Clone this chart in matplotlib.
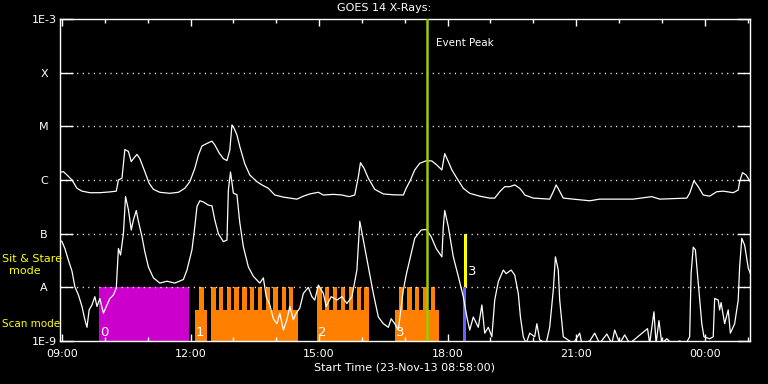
import matplotlib
matplotlib.use("Agg")
import matplotlib.pyplot as plt

plt.rcParams['lines.scale_dashes'] = False
plt.rcParams['font.family'] = ['DejaVu Sans']

# GOES 14 long channel (1-8 A), time in minutes after 09:00
long_t = [-3, 2, 7, 14, 21, 28, 39, 53, 67, 76, 79, 84, 88, 93, 97, 100, 105, 109,
          116, 122, 128, 137, 151, 163, 172, 179, 186, 191, 196, 203, 210, 214, 220,
          226, 231, 235, 238, 241, 245, 249, 256, 263, 273, 280, 289, 298, 310, 324,
          329, 338, 347, 359, 366, 380, 392, 402, 410, 415, 418, 423, 429, 438, 450,
          464, 478, 482, 488, 494, 501, 511, 518, 525, 532, 536, 540, 546, 553, 562,
          571, 585, 599, 606, 613, 620, 627, 634, 641, 646, 648, 660, 683, 688, 692,
          696, 702, 716, 739, 753, 781, 800, 826, 837, 875, 879, 885, 891, 898, 907,
          917, 926, 940, 947, 949, 953, 958, 964]
long_flux = [1.39e-6, 1.43e-6, 1.24e-6, 1.0e-6, 7.0e-7, 6.2e-7, 5.8e-7, 5.8e-7, 6.0e-7,
             6.2e-7, 1.0e-6, 1.08e-6, 3.7e-6, 3.4e-6, 2.2e-6, 2.5e-6, 3.0e-6, 2.5e-6,
             1.43e-6, 8.7e-7, 6.7e-7, 5.9e-7, 5.65e-7, 5.9e-7, 7.0e-7, 9.3e-7, 1.65e-6,
             2.9e-6, 4.3e-6, 4.8e-6, 5.3e-6, 4.5e-6, 3.2e-6, 2.5e-6, 2.3e-6, 3.6e-6,
             1.06e-5, 9.2e-6, 6.9e-6, 4.2e-6, 2.0e-6, 1.24e-6, 9.3e-7, 8.1e-7, 7.0e-7,
             5.25e-7, 4.8e-7, 4.5e-7, 4.4e-7, 5.0e-7, 5.5e-7, 5.9e-7, 5.25e-7, 5.4e-7,
             5.25e-7, 4.9e-7, 5.25e-7, 1.15e-6, 2.1e-6, 1.65e-6, 1.08e-6, 6.7e-7, 5.5e-7,
             5.3e-7, 5.25e-7, 7.0e-7, 1.0e-6, 1.54e-6, 2.05e-6, 2.3e-6, 2.26e-6, 1.9e-6,
             1.54e-6, 3.1e-6, 2.36e-6, 1.54e-6, 1.08e-6, 7.0e-7, 5.65e-7, 5.0e-7, 4.6e-7,
             4.6e-7, 6.05e-7, 7.5e-7, 7.5e-7, 8.1e-7, 7.0e-7, 5.8e-7, 5.25e-7, 4.6e-7,
             4.4e-7, 6.05e-7, 8.1e-7, 6.5e-7, 4.6e-7, 4.4e-7, 4.1e-7, 4.4e-7, 4.4e-7,
             4.4e-7, 4.9e-7, 4.4e-7, 4.6e-7, 5.65e-7, 9.7e-7, 7.5e-7, 5.25e-7, 5.0e-7,
             6.05e-7, 6.2e-7, 5.8e-7, 6.5e-7, 9.3e-7, 1.37e-6, 1.24e-6, 9.3e-7]

# GOES 14 short channel (0.5-4 A)
short_t = [-3, 0, 4, 9, 14, 18, 23, 28, 32, 35, 38, 42, 46, 49, 53, 58, 63, 67, 72, 76,
           79, 82, 86, 89, 93, 97, 100, 104, 107, 112, 116, 121, 128, 137, 147, 158,
           170, 175, 182, 186, 189, 193, 198, 205, 210, 214, 219, 226, 231, 233, 236,
           240, 245, 249, 254, 261, 268, 277, 282, 286, 291, 296, 301, 305, 310, 315,
           319, 324, 328, 333, 338, 345, 350, 354, 359, 366, 370, 377, 385, 392, 399,
           406, 413, 417, 422, 429, 436, 443, 450, 457, 461, 466, 471, 478, 482, 489,
           494, 503, 510, 517, 524, 532, 534, 536, 541, 548, 555, 562, 567, 571, 576,
           583, 588, 592, 597, 602, 606, 611, 618, 622, 629, 634, 639, 642, 646, 650,
           655, 662, 665, 669, 678, 683, 688, 691, 695, 697, 702, 716, 725, 728, 739,
           746, 753, 763, 770, 774, 781, 788, 795, 820, 823, 829, 832, 836, 840, 847,
           854, 865, 874, 879, 881, 884, 887, 891, 896, 899, 907, 912, 914, 919, 921,
           923, 928, 933, 936, 942, 947, 949, 952, 956, 961, 964]
short_flux = [7.6e-8, 7.1e-8, 5.3e-8, 3.2e-8, 2.0e-8, 1.03e-8, 7.2e-9, 4.4e-9, 2.5e-9,
              1.8e-9, 3.8e-9, 4.7e-9, 6.7e-9, 4.4e-9, 6.2e-9, 3.3e-9, 4.7e-9, 6.2e-9,
              7.2e-9, 9.6e-9, 5.3e-8, 4.0e-8, 1.0e-7, 4.9e-7, 2.8e-7, 1.17e-7, 1.8e-7,
              2.7e-7, 1.7e-7, 8.8e-8, 4.6e-8, 2.4e-8, 1.5e-8, 1.2e-8, 1.3e-8, 1.2e-8,
              1.4e-8, 2.1e-8, 5.0e-8, 1.35e-7, 3.2e-7, 4.1e-7, 3.9e-7, 3.4e-7, 3.3e-7,
              1.8e-7, 1.0e-7, 7.1e-8, 7.6e-8, 6.5e-7, 1.41e-6, 5.7e-7, 5.3e-7, 1.6e-7,
              5.7e-8, 2.4e-8, 1.6e-8, 1.2e-8, 1.5e-8, 6.7e-9, 4.7e-9, 2.6e-9, 2.1e-9,
              3.3e-9, 1.6e-9, 2.5e-9, 4.4e-9, 2.5e-9, 3.3e-9, 4.1e-9, 7.7e-9, 1.0e-8,
              6.7e-9, 5.8e-9, 1.1e-8, 7.7e-9, 4.4e-9, 6.7e-9, 5.8e-9, 6.7e-9, 5.0e-9,
              6.7e-9, 2.1e-8, 1.7e-7, 7.6e-8, 2.4e-8, 7.7e-9, 2.8e-9, 2.1e-9, 1.8e-9,
              2.6e-9, 2.1e-9, 1.6e-9, 8.9e-9, 1.7e-8, 4.3e-8, 8.2e-8, 1.17e-7, 1.2e-7,
              8.8e-8, 5.3e-8, 3.7e-8, 1.35e-7, 2.7e-7, 1.35e-7, 3.7e-8, 1.6e-8, 6.7e-9,
              2.8e-9, 1.6e-9, 2.8e-9, 1.8e-9, 4.7e-9, 1.4e-9, 1.8e-9, 1.2e-9, 5.8e-9,
              1.27e-8, 2.1e-8, 1.8e-8, 2.1e-8, 1.7e-8, 7.7e-9, 2.8e-9, 1.2e-9, 9e-10,
              1.4e-9, 1.2e-9, 2.1e-9, 1.05e-9, 9e-10, 1.8e-9, 8.9e-9, 3.7e-8, 2.1e-8,
              5.8e-9, 1.2e-9, 9e-10, 1.4e-9, 9e-10, 1.0e-9, 1.4e-9, 9e-10, 1.35e-9,
              9e-10, 1.6e-9, 9e-10, 1.3e-9, 9e-10, 1.7e-9, 9e-10, 3.5e-9, 9e-10, 2.4e-9,
              9e-10, 1.1e-9, 9e-10, 1.0e-9, 9e-10, 1.2e-9, 1.8e-8, 5.6e-8, 5.0e-8,
              1.2e-8, 2.1e-9, 1.2e-9, 1.1e-9, 1.2e-9, 6.2e-9, 5.8e-9, 3.8e-9, 5.2e-9,
              2.1e-9, 3.8e-9, 1.4e-9, 2.1e-9, 5.8e-9, 2.4e-8, 8.2e-8, 6.1e-8, 2.3e-8,
              1.8e-8]

# instrument observing modes (minutes after 09:00)
sitstare_span = (52, 178)
scan_bases = [(186, 203), (209, 330), (357, 430), (466, 528)]
scan_steps = [(192, 199), (209, 216), (220, 225), (231, 237), (241, 248), (252, 259),
              (263, 269), (274, 280), (286, 291), (295, 302), (308, 314), (318, 323),
              (357, 364), (368, 374), (379, 385), (391, 396), (402, 407), (413, 419),
              (423, 430), (472, 477), (483, 490), (494, 500), (505, 511), (517, 522)]
run_labels = ["0", "1", "2", "3"]
run_label_t = [59, 193, 364, 473]
blue_span = (561, 566)
yellow_span = (563, 567)
event_peak_t = 511

tick_t = [0, 180, 360, 540, 720, 900]
tick_labels = ["09:00", "12:00", "15:00", "18:00", "21:00", "00:00"]
level_flux = [1e-3, 1e-4, 1e-5, 1e-6, 1e-7, 1e-8, 1e-9]
level_labels = ["1E-3", "X", "M", "C", "B", "A", "1E-9"]

FLOOR = 1e-10
BASE_TOP = 3.8e-9
STEP_TOP = 1e-8

fig = plt.figure(figsize=(7.68, 3.84), dpi=100, facecolor='black')
ax = fig.add_axes([60 / 768, 43 / 384, 690 / 768, 322 / 384])
ax.set_facecolor('black')
ax.set_yscale('log')
ax.set_xlim(-2.8, 963.5)
ax.set_ylim(1e-9, 1e-3)

# mode blocks
ax.bar(sitstare_span[0], STEP_TOP - FLOOR, width=sitstare_span[1] - sitstare_span[0],
       bottom=FLOOR, align='edge', color='#cc00cc', linewidth=0, zorder=1)
for a, b in scan_bases:
    ax.bar(a, BASE_TOP - FLOOR, width=b - a, bottom=FLOOR, align='edge',
           color='#ff8000', linewidth=0, zorder=1)
for a, b in scan_steps:
    ax.bar(a, STEP_TOP - FLOOR, width=b - a, bottom=FLOOR, align='edge',
           color='#ff8000', linewidth=0, zorder=1)
ax.bar(blue_span[0], STEP_TOP - FLOOR, width=blue_span[1] - blue_span[0], bottom=FLOOR,
       align='edge', color='#6464ff', linewidth=0, zorder=1)
ax.bar(yellow_span[0], 1e-7 - STEP_TOP, width=yellow_span[1] - yellow_span[0],
       bottom=STEP_TOP, align='edge', color='#ffff00', linewidth=0, zorder=1)

# dotted flare level lines
for lev in level_flux[1:-1]:
    ax.axhline(lev, color='white', lw=1, dashes=(0.8, 3.2), zorder=1.5)

ax.plot(long_t, long_flux, color='white', lw=0.9, zorder=2)
ax.plot(short_t, short_flux, color='white', lw=0.9, zorder=2)

ax.axvline(event_peak_t, color='#9ccc00', lw=1.8, zorder=3)
ax.text(event_peak_t + 13, 3.6e-4, "Event Peak", color='white', fontsize=7.5,
        va='center', ha='left')

# run numbers
for lab, t in zip(run_labels, run_label_t):
    ax.text(t, 1.45e-9, lab, color='white', fontsize=9.5, ha='center', va='center',
            zorder=4)
ax.text(yellow_span[1] + 1, 2.0e-8, "3", color='white', fontsize=9.5, ha='left',
        va='center', zorder=4)

# axes styling
for sp in ax.spines.values():
    sp.set_color('white')
    sp.set_linewidth(1)
ax.set_xticks(tick_t)
ax.set_xticklabels(tick_labels)
ax.set_xticks(range(60, 961, 60), minor=True)
ax.set_yticks(level_flux)
ax.set_yticklabels(level_labels)
ax.yaxis.set_minor_locator(matplotlib.ticker.NullLocator())
ax.tick_params(axis='x', which='major', direction='in', length=5, width=1,
               colors='white', top=True, labelsize=8, pad=6)
ax.tick_params(axis='x', which='minor', direction='in', length=3, width=1,
               colors='white', top=True)
ax.tick_params(axis='y', which='major', direction='in', length=9.5, width=1,
               colors='white', right=True, labelsize=8, pad=11.5)
plt.setp(ax.get_yticklabels(), ha='center')

ax.set_xlabel("Start Time (23-Nov-13 08:58:00)", color='white', fontsize=8, labelpad=2)
fig.text(0.5, 1 - 8 / 384, "GOES 14 X-Rays:", color='white', fontsize=8,
         ha='center', va='center')

# mode annotations on the left
fig.text(2 / 768, 1 - 259 / 384, "Sit & Stare", color='yellow', fontsize=8,
         ha='left', va='center')
fig.text(25 / 768, 1 - 271 / 384, "mode", color='yellow', fontsize=8,
         ha='center', va='center')
fig.text(2 / 768, 1 - 324 / 384, "Scan mode", color='yellow', fontsize=7.5,
         ha='left', va='center')

fig.savefig("out.png", dpi=100, facecolor='black')
